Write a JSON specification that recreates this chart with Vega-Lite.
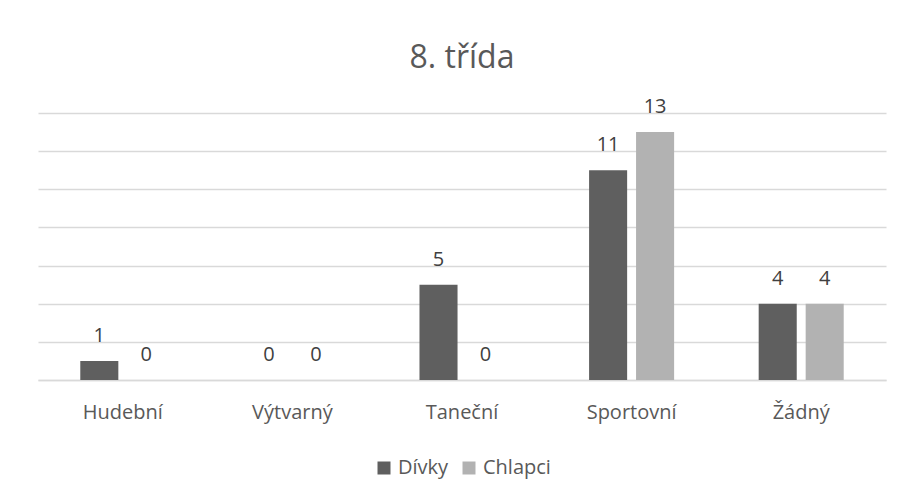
{
  "$schema": "https://vega.github.io/schema/vega-lite/v6.json",
  "width": 848,
  "height": 267,
  "autosize": {"type": "none"},
  "padding": {"left": 38, "top": 113, "right": 18, "bottom": 114},
  "background": "white",
  "title": {"text": "8. třída", "fontSize": 32, "font": "Open Sans", "fontWeight": "normal", "color": "#595959", "anchor": "middle", "offset": 22},
  "data": {"values": [
    {"kategorie": "Hudební", "skupina": "Dívky", "pocet": 1},
    {"kategorie": "Hudební", "skupina": "Chlapci", "pocet": 0},
    {"kategorie": "Výtvarný", "skupina": "Dívky", "pocet": 0},
    {"kategorie": "Výtvarný", "skupina": "Chlapci", "pocet": 0},
    {"kategorie": "Taneční", "skupina": "Dívky", "pocet": 5},
    {"kategorie": "Taneční", "skupina": "Chlapci", "pocet": 0},
    {"kategorie": "Sportovní", "skupina": "Dívky", "pocet": 11},
    {"kategorie": "Sportovní", "skupina": "Chlapci", "pocet": 13},
    {"kategorie": "Žádný", "skupina": "Dívky", "pocet": 4},
    {"kategorie": "Žádný", "skupina": "Chlapci", "pocet": 4}
  ]},
  "encoding": {
    "x": {"field": "kategorie", "type": "nominal", "sort": ["Hudební", "Výtvarný", "Taneční", "Sportovní", "Žádný"],
      "scale": {"paddingInner": 0, "paddingOuter": 0},
      "axis": {"title": null, "labelAngle": 0, "ticks": false, "domain": true, "domainColor": "#d9d9d9", "domainWidth": 1.5, "labelFont": "Open Sans", "labelFontSize": 20, "labelColor": "#595959", "labelPadding": 22}},
    "xOffset": {"field": "skupina", "type": "nominal", "sort": ["Dívky", "Chlapci"], "scale": {"paddingInner": 0.19, "paddingOuter": 0.9}},
    "y": {"field": "pocet", "type": "quantitative", "scale": {"domain": [0, 14], "nice": false},
      "axis": {"title": null, "labels": false, "ticks": false, "domain": false, "values": [0, 2, 4, 6, 8, 10, 12, 14], "gridColor": "#d9d9d9", "gridWidth": 1.5}}
  },
  "layer": [
    {"mark": {"type": "bar"},
      "encoding": {"color": {"field": "skupina", "type": "nominal", "sort": ["Dívky", "Chlapci"],
        "scale": {"domain": ["Dívky", "Chlapci"], "range": ["#5f5f5f", "#b2b2b2"]},
        "legend": {"title": null, "orient": "bottom", "direction": "horizontal", "symbolType": "square", "symbolSize": 169, "symbolStrokeWidth": 0, "labelFont": "Open Sans", "labelFontSize": 20, "labelColor": "#595959", "offset": 36, "columnPadding": 10, "labelOffset": 4}}}},
    {"mark": {"type": "text", "baseline": "alphabetic", "dy": -19, "font": "Open Sans", "fontSize": 20, "color": "#404040"},
      "encoding": {"text": {"field": "pocet", "type": "quantitative"}}}
  ],
  "config": {"view": {"stroke": null}, "legend": {"layout": {"bottom": {"anchor": "middle"}}}}
}
